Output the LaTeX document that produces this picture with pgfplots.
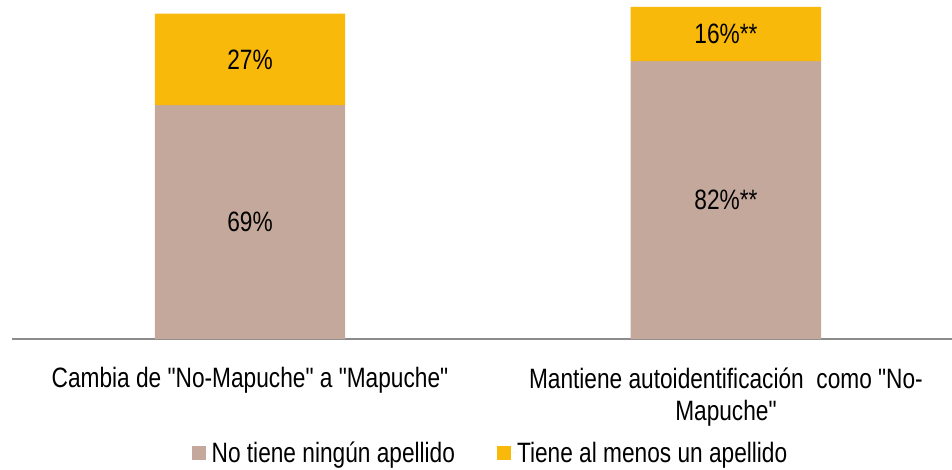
\documentclass[border=0pt]{standalone}
\usepackage{fontspec}
\setmainfont{Liberation Sans}[FakeStretch=0.81, Ligatures=TeXOff]
\usepackage{pgfplots}
\pgfplotsset{compat=1.18}
\definecolor{taupe}{HTML}{C4A89B}
\definecolor{gold}{HTML}{F8B90A}
\definecolor{axgray}{HTML}{8C8C8C}
\begin{document}
\begin{tikzpicture}[font=\fontsize{28}{30}\selectfont]
\useasboundingbox (0,0) rectangle (952pt,469pt);
\begin{axis}[
  at={(12pt,130pt)}, anchor=south west,
  scale only axis, width=940pt, height=339pt,
  ybar stacked, bar width=0.4, reverse stacked plots=false,
  xmin=-0.5, xmax=1.475, ymin=0, ymax=100,
  axis x line=bottom, axis y line=none,
  x axis line style={-, draw=axgray, line width=2pt},
  xtick={0,1}, major tick length=0pt,
  xticklabels={{Cambia de "No-Mapuche"\ a "Mapuche"},{Mantiene autoidentificación\ \ como "No-\\Mapuche"}},
  xticklabel style={align=center, font=\fontsize{28}{32}\selectfont, text=black, yshift=-25pt},
  ytick=\empty,
  clip=false,
  legend columns=2,
  legend style={at={(0.509,-0.336)}, anchor=center, draw=none, fill=none,
    font=\fontsize{28}{30}\selectfont,
    /tikz/every even column/.append style={column sep=40pt}},
  legend image code/.code={\path (0pt,0pt) -- (18pt,0pt); \fill[#1] (0pt,-7pt) rectangle (14pt,7pt);},
]
\addplot[fill=taupe, draw=none] coordinates {(0,69) (1,82)};
\addlegendentry{No tiene ningún apellido}
\addplot[fill=gold, draw=none] coordinates {(0,27) (1,16)};
\addlegendentry{Tiene al menos un apellido}
\node at (axis cs:0,34.5) {69\%};
\node at (axis cs:0,82.5) {27\%};
\node at (axis cs:1,41) {82\%**};
\node at (axis cs:1,90) {16\%**};
\end{axis}
\end{tikzpicture}
\end{document}
